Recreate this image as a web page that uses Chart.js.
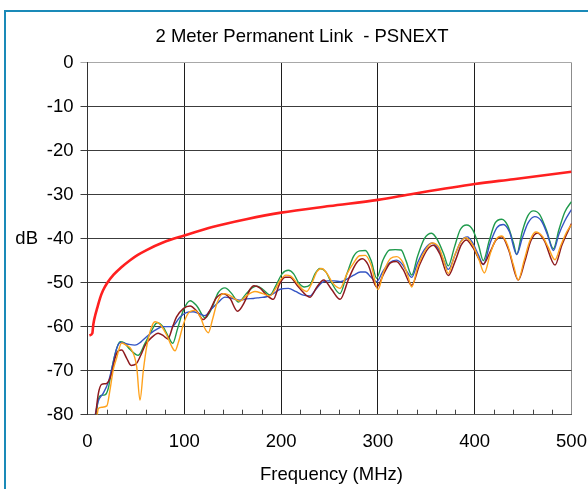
<!DOCTYPE html>
<html>
<head>
<meta charset="utf-8">
<script src="https://cdn.jsdelivr.net/npm/chart.js@4.4.1/dist/chart.umd.min.js"></script>
<style>
  html, body { margin: 0; padding: 0; background: #ffffff; overflow: hidden; }
  #frame { position: absolute; left: 4px; top: 10px; width: 640px; height: 560px; border: 2px solid #1a8ab8; box-sizing: border-box; }
  #c { position: absolute; left: 0; top: 0; }
</style>
</head>
<body>
<div id="frame"></div>
<canvas id="c" width="588" height="489"></canvas>
<script>
// ---------- data ----------
const titleText = "2 Meter Permanent Link  - PSNEXT";
const xTitle = "Frequency (MHz)";
const yTitle = "dB";
const xTicks = [0, 100, 200, 300, 400, 500];
const yTicks = [0, -10, -20, -30, -40, -50, -60, -70, -80];

const limitFreq = [2, 5, 6, 8, 10, 13, 16, 20, 27, 35, 44, 52, 61, 78, 100, 130, 164, 200, 250, 300, 337, 400, 440, 500];
const limitDb   = [-62, -61.5, -59.5, -57.4, -55.8, -53.5, -51.8, -50.2, -48.2, -46.5, -44.9, -43.7, -42.6, -40.9, -39.3, -37.3, -35.6, -34.1, -32.6, -31.2, -29.8, -27.6, -26.5, -24.8];

const greenFreq = [9, 11, 14, 18, 21.5, 25, 28.4, 33.6, 38, 44, 52.5, 59.4, 64.6, 72, 78, 84, 88, 93, 99, 106, 113, 121.5, 128, 135, 142, 149, 156, 164, 170, 175, 181, 188.5, 195, 201, 207.5, 213, 218, 224, 230, 235, 240.2, 246, 252, 260.8, 268, 275, 281, 287, 293, 298.7, 305, 312, 318, 324, 329, 334.9, 341, 348, 355.5, 362, 368, 372.7, 379, 385, 391.7, 398, 404, 408.9, 415, 421, 427.9, 434, 440, 443.4, 449, 455, 460.6, 467, 474, 481.3, 487, 493, 500];
const greenDb   = [-80, -76.7, -75.6, -75.5, -74, -69.7, -66.3, -63.4, -63.7, -65.2, -66.5, -63.8, -61.6, -59.1, -60, -62.5, -63.8, -60.5, -56.3, -54.1, -55.3, -58, -56, -52.3, -51.2, -52.5, -54.4, -52.5, -51.2, -50.8, -51.5, -52.8, -50.5, -48, -47.2, -48, -50, -51, -50.5, -48, -46.8, -47.5, -50, -52.5, -48, -44, -42.8, -42.7, -45, -49, -45, -42.6, -42.5, -42.6, -45, -48.3, -44, -40, -38.8, -40.5, -43.5, -46.2, -42, -38, -36.9, -38, -41.5, -45, -40.5, -36.5, -35.6, -37, -41, -43.6, -38.5, -34.8, -33.7, -34.5, -38, -42.3, -38, -34, -31.6];

const blueFreq = [8, 11, 16, 21.5, 26.7, 30, 34, 42, 49, 55, 61, 70, 78, 87, 95.6, 102, 109, 115, 121.4, 128, 135, 142, 150, 157.5, 164, 171.3, 178, 185, 192, 199, 207.5, 215, 222, 229.9, 236, 242, 248, 255, 261, 268, 275, 282, 287, 293, 298.7, 305, 312, 319, 325, 330, 334.9, 341, 348, 356, 363, 368, 372.7, 380, 386, 392.5, 398, 404, 408.9, 416, 423, 429.6, 436, 443.4, 449, 455, 462, 469, 475, 481.3, 487, 493, 500];
const blueDb   = [-80, -77, -75.2, -72.6, -68, -65, -63.6, -64, -64.2, -63.5, -62.3, -60.8, -60, -60, -57.8, -56.8, -56.6, -57, -57.5, -56, -54.5, -53.3, -53.6, -54, -53.7, -53.6, -53.4, -53.2, -52.5, -51.5, -51.3, -52, -52.8, -53, -51.5, -50, -49.6, -49.6, -49.8, -49.2, -48.3, -47.6, -47.6, -48.8, -49.8, -47.5, -45.5, -44.9, -45.8, -47.5, -48.8, -45.5, -42.5, -41, -42.5, -45, -47, -43.5, -40.5, -39.6, -41, -43.8, -45.9, -41, -37.5, -36.8, -38.5, -43.6, -40, -36.5, -35, -36, -39, -42.7, -39, -36, -33.4];

const orangeFreq = [10, 11.2, 15, 20, 23.2, 26.7, 30, 35.3, 40, 45.6, 50.8, 54.2, 57.7, 61.1, 66.3, 70, 75, 81.8, 87, 90.4, 94, 99, 104, 111, 117, 121, 124.8, 129, 134, 140.3, 146, 151, 157.5, 164, 173, 181, 188.5, 194, 199, 205, 210, 216, 222, 226.4, 232, 237, 241.9, 247, 253, 260.8, 268, 275, 281, 287, 293, 300, 306, 313, 319.4, 326, 331, 334.9, 341, 348, 356, 363, 368, 372.7, 379, 385, 391, 398, 404, 410, 416, 422, 428, 434, 440, 445, 451, 457, 463, 470, 476, 482.9, 489, 495, 500];
const orangeDb   = [-80, -78.6, -78.3, -78, -74.4, -69.7, -67.2, -63.7, -64.2, -65.3, -69.1, -76.7, -69.9, -64.6, -60, -58.9, -59.5, -61.9, -64.5, -65.5, -63.5, -59.5, -57, -56.3, -58, -60.3, -61.4, -58.5, -54.5, -52.5, -52.8, -53.5, -54.2, -53, -52, -52.5, -53, -51.5, -49.5, -48.3, -48.5, -50, -51.5, -52, -50, -47.5, -46.8, -47.8, -50, -51.3, -48, -45.5, -43.9, -43.8, -46, -51.6, -47.5, -44.5, -44.1, -45.5, -48.5, -51, -46.5, -43, -41, -42, -45, -47.9, -44, -41, -39.8, -41.5, -44.5, -47.8, -43.5, -40.2, -39.4, -41.5, -46, -49.4, -45, -40.5, -38.5, -39.5, -42, -44.8, -41.5, -38.5, -36.8];

const maroonFreq = [8.4, 11.2, 14.6, 19.8, 25, 28.4, 31.8, 35.3, 40.5, 45, 50, 55, 60, 66, 73, 78, 83, 88, 92, 99, 106, 113, 119.7, 126, 133, 140.3, 147, 155, 162, 168, 172, 178, 185, 192, 198, 204, 209, 218, 229.9, 237, 244, 252, 261, 270, 278, 284, 290, 298.7, 306, 313, 319, 326, 334.9, 343, 351, 357.3, 364, 372.7, 380, 386, 391.5, 398, 408.9, 416, 422, 428, 435, 445, 452, 458, 465, 472, 483, 490, 500];
const maroonDb   = [-80, -75.2, -73.1, -72.9, -70.6, -67.2, -65.5, -65.3, -67.2, -68.8, -68.5, -66.5, -64, -62.5, -61.5, -62, -62.8, -60, -57.8, -55.9, -55.3, -56.5, -58.4, -56.5, -53.5, -52.5, -53.5, -56.5, -54.5, -51.5, -50.7, -51.2, -52.8, -53.8, -50.5, -48.8, -48.8, -51, -53.3, -51, -49.4, -51.5, -53.8, -49, -45.5, -44.6, -46, -51, -48, -45.5, -45.2, -47, -50.6, -46, -42.5, -41.5, -43.5, -48.4, -45, -41.5, -40.3, -42, -45.8, -43, -40.3, -39.6, -42.5, -49.4, -45, -40.5, -38.7, -40.5, -46, -41.5, -36.6];

function pts(fs, ds) { return fs.map((f, i) => ({ x: f, y: ds[i] })); }

const FONT = "'Liberation Sans', Arial, sans-serif";

const decorPlugin = {
  id: 'decor',
  beforeDatasetsDraw(chart) {
    const { ctx, chartArea } = chart;
    const xs = chart.scales.x;
    ctx.save();
    ctx.strokeStyle = '#444';
    ctx.lineWidth = 1;
    for (let v = 20; v < 500; v += 20) {
      if (v % 100 === 0) continue;
      const px = Math.round(xs.getPixelForValue(v)) + 0.5;
      ctx.beginPath();
      ctx.moveTo(px, chartArea.bottom);
      ctx.lineTo(px, chartArea.bottom - 5);
      ctx.stroke();
    }
    ctx.restore();
  },
  afterDraw(chart) {
    const { ctx, chartArea } = chart;
    const ys = chart.scales.y;
    ctx.save();
    ctx.fillStyle = '#000';
    ctx.font = "18.5px " + FONT;
    ctx.textAlign = 'center';
    ctx.textBaseline = 'middle';
    ctx.fillText(titleText, 302, 37);
    ctx.fillText(xTitle, (chartArea.left + chartArea.right) / 2 + 2, 475);
    ctx.textAlign = 'right';
    ctx.fillText(yTitle, 38, ys.getPixelForValue(-40));
    ctx.restore();
  }
};

const lineDs = (label, fs, ds, color, w) => ({
  label, data: pts(fs, ds), borderColor: color, borderWidth: w,
  pointRadius: 0, fill: false, cubicInterpolationMode: 'monotone'
});

new Chart(document.getElementById('c'), {
  type: 'line',
  data: {
    datasets: [
      lineDs('Limit', limitFreq, limitDb, '#ff2020', 2.6),
      lineDs('Orange', orangeFreq, orangeDb, '#ffa21c', 1.4),
      lineDs('Maroon', maroonFreq, maroonDb, '#8e1a1e', 1.5),
      lineDs('Blue', blueFreq, blueDb, '#3454c4', 1.4),
      lineDs('Green', greenFreq, greenDb, '#1f9a4c', 1.4)
    ]
  },
  options: {
    responsive: false,
    animation: false,
    events: [],
    layout: { padding: { left: 0, right: 0, top: 62.5, bottom: 0 } },
    plugins: { legend: { display: false }, title: { display: false }, tooltip: { enabled: false } },
    scales: {
      x: {
        type: 'linear', min: 0, max: 500,
        afterBuildTicks(s) { s.ticks = xTicks.map(v => ({ value: v })); },
        afterFit(s) { s.height = 489 - 62.5 - 352.2; s.paddingRight = 16.5; },
        ticks: { color: '#000', font: { family: FONT, size: 18.5 }, padding: 16, maxRotation: 0 },
        grid: {
          drawTicks: false,
          color: (c) => (c.tick && c.tick.value === 500) ? '#8c8c8c' : '#1e1e1e',
          lineWidth: 1
        },
        border: { color: '#555', width: 1 }
      },
      y: {
        type: 'linear', min: -80, max: 0,
        afterBuildTicks(s) { s.ticks = yTicks.map(v => ({ value: v })); },
        afterFit(s) { s.width = 87.5; },
        ticks: { color: '#000', font: { family: FONT, size: 18.5 }, padding: 7 },
        grid: {
          tickLength: 7,
          color: (c) => (c.tick && c.tick.value === 0) ? '#a8a8a8' : '#3c3c3c',
          lineWidth: 1
        },
        border: { color: '#333', width: 1 }
      }
    }
  },
  plugins: [decorPlugin]
});
</script>
</body>
</html>
